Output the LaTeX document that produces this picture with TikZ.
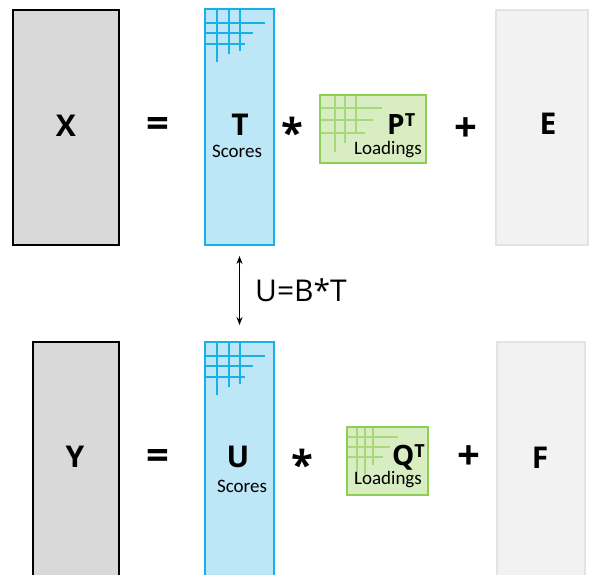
\documentclass[tikz,border=0pt]{standalone}
\usepackage{fontspec}
\setmainfont{Open Sans}
\newfontfamily\calfont{Carlito}
\usetikzlibrary{arrows.meta}
\definecolor{xfill}{HTML}{D9D9D9}
\definecolor{efill}{HTML}{F2F2F2}
\definecolor{eline}{HTML}{E3E3E3}
\definecolor{tfill}{HTML}{BDE6F7}
\definecolor{tline}{HTML}{19AFE8}
\definecolor{pfill}{HTML}{D9EDC2}
\definecolor{pline}{HTML}{8FCE55}
\definecolor{pgrid}{HTML}{A8D87A}
\tikzset{
  xbox/.style={draw=black, line width=2.5pt, fill=xfill, inner sep=0pt},
  ebox/.style={draw=eline, line width=2pt, fill=efill, inner sep=0pt},
  tbox/.style={draw=tline, line width=2pt, fill=tfill, inner sep=0pt},
  pbox/.style={draw=pline, line width=2pt, fill=pfill, inner sep=0pt},
  tgrid/.style={draw=tline, line width=1.5pt},
  pgridl/.style={draw=pgrid, line width=1.3pt},
  big/.style={font=\fontsize{30}{30}\selectfont\bfseries, inner sep=0pt},
  sym/.style={font=\fontsize{40}{40}\selectfont\bfseries, inner sep=0pt},
  mid/.style={font=\fontsize{28}{28}\selectfont\bfseries, inner sep=0pt},
  small/.style={font=\calfont\fontsize{19}{19}\selectfont, inner sep=0pt},
  rel/.style={font=\fontsize{30}{30}\selectfont, inner sep=0pt},
}
\newcommand{\suptee}{\raisebox{8pt}{\fontsize{18}{18}\selectfont T}}
\begin{document}
\begin{tikzpicture}[x=1pt,y=-1pt]
\useasboundingbox (0,0) rectangle (591,574);
\clip (0,0) rectangle (591,574);
\fill[white] (0,0) rectangle (591,574);
% top row
\node[xbox, minimum width=106pt, minimum height=235pt] (X) at (66,127.5) {};
\node[tbox, minimum width=69pt, minimum height=236pt] (T) at (239.5,127) {};
\node[pbox, minimum width=106pt, minimum height=68pt] (P) at (373,129) {};
\node[ebox, minimum width=92pt, minimum height=235pt] (E) at (542,127.5) {};
% grids top
\draw[tgrid] (204,23) -- (265,23) (204,33) -- (253,33) (204,44) -- (245,44);
\draw[tgrid] (217,9) -- (217,62) (229,9) -- (229,54) (240,9) -- (240,51);
\draw[pgridl] (321,108) -- (382,108) (321,120) -- (373,120) (321,133) -- (365,133);
\draw[pgridl] (335,96) -- (335,152) (345,96) -- (345,143) (356,96) -- (356,133);
% bottom row
\node[xbox, minimum width=86pt, minimum height=250pt] (Y) at (76,467) {};
\node[tbox, minimum width=69pt, minimum height=250pt] (U) at (239.5,467) {};
\node[pbox, minimum width=81pt, minimum height=68pt] (Q) at (387.5,461) {};
\node[ebox, minimum width=88pt, minimum height=250pt] (F) at (541,467) {};
% grids bottom
\draw[tgrid] (204,356) -- (265,356) (204,366) -- (253,366) (204,377) -- (245,377);
\draw[tgrid] (217,342) -- (217,395) (229,342) -- (229,387) (240,342) -- (240,384);
\draw[pgridl] (348,437) -- (398,437) (348,447) -- (390,447) (348,457) -- (383,457);
\draw[pgridl] (357,428) -- (357,482) (365,428) -- (365,474) (373,428) -- (373,465);
% texts top
\node[big] (tX) at (66,126) {X};
\node[sym] (eq1) at (158,127) {=};
\node[big] (tT) at (240,125) {T};
\node[small] (sT) at (237,151) {Scores};
\node[sym] (st1) at (292,132) {*};
\node[mid, anchor=base west] (tP) at (387,134) {P\suptee};
\node[small] (lP) at (388,150) {Loadings};
\node[sym] (pl1) at (466,130) {+};
\node[big] (tE) at (548,124) {E};
% texts bottom
\node[big] (tY) at (75,457) {Y};
\node[sym] (eq2) at (158,459) {=};
\node[big] (tU) at (238,457) {U};
\node[small] (sU) at (242,486) {Scores};
\node[sym] (st2) at (302,464) {*};
\node[mid, anchor=base west] (tQ) at (392,465) {Q\suptee};
\node[small] (lQ) at (388,480) {Loadings};
\node[sym] (pl2) at (469,458) {+};
\node[big] (tF) at (540,458) {F};
% relation
\draw[{Stealth[length=8pt,width=6pt]}-{Stealth[length=8pt,width=6pt]}, line width=0.9pt] ([yshift=-10pt]T.south) -- ([yshift=16pt]U.north);
\node[rel, anchor=west] (rel) at (255,290) {U=B*T};
\end{tikzpicture}
\end{document}
